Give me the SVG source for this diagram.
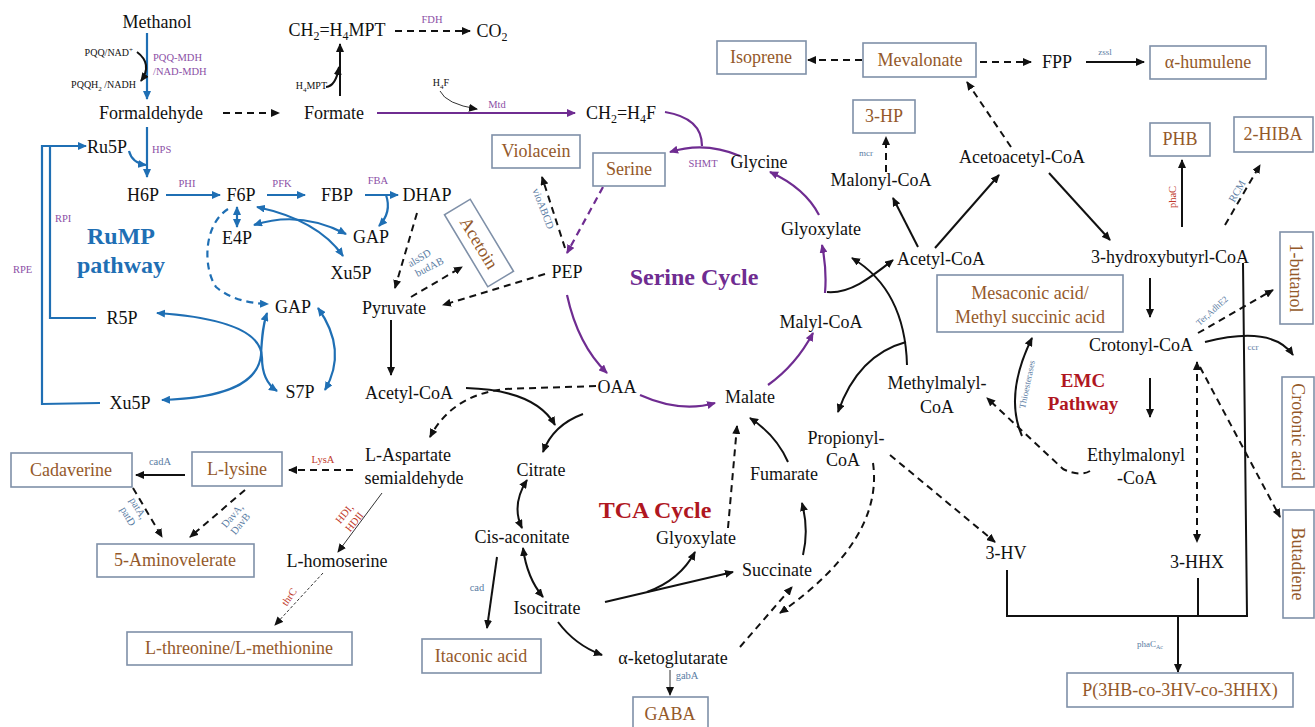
<svg xmlns="http://www.w3.org/2000/svg" width="1315" height="727" viewBox="0 0 1315 727">
<style>
text{font-family:"Liberation Serif","Times New Roman",serif}
.t{font-size:18px;fill:#111;text-anchor:middle}
.bt{font-size:18px;fill:#94592a;text-anchor:middle}
.bx{fill:#fff;stroke:#7f90a8;stroke-width:1.6}
.s{font-size:10.5px;text-anchor:middle}
.s9{font-size:9px}
.s10{font-size:10px}
.e{text-anchor:end}
.st{text-anchor:start}
.pu{fill:#8b4fa6}
.bg{fill:#5a7ca3}
.rd{fill:#c0392b}
.kk{fill:#111}
.k{stroke:#111;stroke-width:2;fill:none;marker-end:url(#ak)}
.kn{stroke:#111;stroke-width:2;fill:none}
.kd{stroke:#111;stroke-width:2;fill:none;stroke-dasharray:7 5;marker-end:url(#ak)}
.k2{stroke:#111;stroke-width:2;fill:none;marker-end:url(#ak);marker-start:url(#ak)}
.kt{stroke:#333;stroke-width:1;fill:none;marker-end:url(#ak)}
.b{stroke:#1f6fb4;stroke-width:2.2;fill:none;marker-end:url(#ab)}
.bn{stroke:#1f6fb4;stroke-width:2.2;fill:none}
.b2{stroke:#1f6fb4;stroke-width:2.2;fill:none;marker-end:url(#ab);marker-start:url(#ab)}
.bd{stroke:#1f6fb4;stroke-width:2.2;fill:none;stroke-dasharray:7 5;marker-end:url(#ab)}
.p{stroke:#6f2c91;stroke-width:2.2;fill:none;marker-end:url(#ap)}
.pn{stroke:#6f2c91;stroke-width:2.2;fill:none}
.pd{stroke:#6f2c91;stroke-width:2.2;fill:none;stroke-dasharray:7 5;marker-end:url(#ap)}
</style>
<defs>
<marker id="ak" markerUnits="userSpaceOnUse" markerWidth="10" markerHeight="8" refX="8" refY="4" orient="auto-start-reverse"><path d="M0,0 L9,4 L0,8 z" fill="#111"/></marker>
<marker id="ab" markerUnits="userSpaceOnUse" markerWidth="10" markerHeight="8" refX="8" refY="4" orient="auto-start-reverse"><path d="M0,0 L9,4 L0,8 z" fill="#1f6fb4"/></marker>
<marker id="ap" markerUnits="userSpaceOnUse" markerWidth="10" markerHeight="8" refX="8" refY="4" orient="auto-start-reverse"><path d="M0,0 L9,4 L0,8 z" fill="#6f2c91"/></marker>
</defs>
<rect width="1315" height="727" fill="#fff"/>

<g id="connectors">
<!-- blue RuMP -->
<path class="b" d="M147 33 L147 99"/>
<path class="b" d="M147 127 L147 177"/>
<path class="b" d="M129 151 Q132 163 146 165"/>
<path class="b" d="M166 195 L220 195"/>
<path class="b" d="M267 195 L305 195"/>
<path class="b" d="M365 195 L398 195"/>
<path class="b" d="M386 195 Q392 212 379 226"/>
<path class="b2" d="M237 207 L237 227"/>
<path class="b2" d="M257 207 Q318 220 343 256"/>
<path class="b2" d="M254 225 Q300 210 346 234"/>
<path class="bd" d="M228 209 C203 225 203 268 216 287 Q235 303 268 304"/>
<path class="b2" d="M157 313 C232 318 262 335 262 358 C262 375 268 385 277 391"/>
<path class="b2" d="M162 400 C222 398 258 385 261 355 C262 335 263 325 267 313"/>
<path class="b2" d="M318 308 Q348 350 325 390"/>
<path class="bn" d="M96 318 L50 318 L50 146"/>
<path class="b" d="M100 403 L42 404 L42 146 L86 146"/>
<!-- black top -->
<path class="k" d="M137 52 Q153 64 141 81"/>
<path class="kd" d="M223 113 L279 113"/>
<path class="k" d="M340 96 L340 44"/>
<path class="k" d="M326 87 Q336 86 339 67"/>
<path class="kd" d="M395 31 L470 31"/>
<path class="kt" d="M440 91 Q446 104 477 109"/>
<!-- purple serine cycle -->
<path class="p" d="M377 113 L575 113"/>
<path class="pn" d="M665 112 Q702 118 702 146"/>
<path class="p" d="M740 156 Q705 141 670 152"/>
<path class="pd" d="M603 187 L567 253"/>
<path class="p" d="M567 295 Q578 345 607 373"/>
<path class="p" d="M640 395 Q680 413 715 403"/>
<path class="p" d="M768 385 Q796 365 813 333"/>
<path class="p" d="M825 293 Q827 270 822 245"/>
<path class="p" d="M819 215 Q805 188 770 172"/>
<!-- glycolysis / pyruvate area -->
<path class="kd" d="M417 213 L395 288"/>
<path class="kd" d="M411 297 L462 267"/>
<path class="kd" d="M545 274 L443 305"/>
<path class="kd" d="M565 248 L542 177"/>
<path class="k" d="M391 320 L391 375"/>
<path class="k" d="M466 388 Q535 390 555 425"/>
<path class="k" d="M583 414 Q553 425 543 452"/>
<path class="kd" d="M596 386 L505 389 Q452 395 430 437"/>
<!-- aspartate branch -->
<path class="kd" d="M353 470 L289 470"/>
<path class="k" d="M185 475 L136 475"/>
<path class="kd" d="M133 488 L162 537"/>
<path class="kd" d="M245 490 L190 537"/>
<path class="kt" d="M382 493 L338 552"/>
<path class="kt" d="M323 573 L275 625" stroke-dasharray="3 2"/>
<!-- TCA -->
<path class="k2" d="M527 480 Q511 505 522 528"/>
<path class="k2" d="M523 548 Q527 578 543 597"/>
<path class="k" d="M497 557 L487 628"/>
<path class="k" d="M558 622 Q575 645 602 655"/>
<path class="kt" d="M670 670 L670 695"/>
<path class="k" d="M605 602 L733 572"/>
<path class="k" d="M647 592 Q680 580 695 552"/>
<path class="kd" d="M728 528 L737 426"/>
<path class="kd" d="M740 647 L792 587"/>
<path class="k" d="M803 555 Q809 530 802 503"/>
<path class="k" d="M788 462 Q776 435 750 418"/>
<path class="kd" d="M873 463 Q884 540 780 613"/>
<path class="kd" d="M890 455 L995 542"/>
<!-- EMC -->
<path class="k" d="M907 365 Q905 290 852 258"/>
<path class="k" d="M906 342 Q858 355 838 412"/>
<path class="k" d="M827 292 C850 294 870 278 893 260"/>
<path class="k" d="M918 247 L893 198"/>
<path class="k" d="M935 248 L999 175"/>
<path class="k" d="M1049 173 L1110 240"/>
<path class="kd" d="M1011 147 L967 82"/>
<path class="kd" d="M862 60 L808 60"/>
<path class="kd" d="M980 62 L1031 62"/>
<path class="k" d="M1086 62 L1144 62"/>
<path class="kd" d="M886 172 L886 137"/>
<path class="k" d="M1182 227 L1182 160"/>
<path class="kd" d="M1225 225 L1260 165"/>
<path class="k" d="M1150 278 L1150 317"/>
<path class="k" d="M1150 378 L1150 417"/>
<path class="kd" d="M1198 333 L1273 290"/>
<path class="k" d="M1205 342 Q1272 325 1293 355"/>
<path class="kd" d="M1197 362 L1197 542" marker-start="url(#ak)"/>
<path class="kd" d="M1200 367 L1280 517"/>
<path class="kd" d="M1090 471 Q1080 477 1063 469 L987 398"/>
<path class="k" d="M1022 436 Q1004 395 1032 338"/>
<path class="kn" d="M1007 570 L1007 616 L1247 616 L1243 263"/>
<path class="kn" d="M1198 578 L1198 616"/>
<path class="k" d="M1178 616 L1178 672"/>
</g>

<g id="labels">
<text class="s s10 kk e" x="133" y="56">PQQ/NAD<tspan font-size="7" dy="-4">+</tspan></text>
<text class="s s10 kk e" x="136" y="88">PQQH<tspan font-size="7" dy="3">2</tspan><tspan dy="-3"> /NADH</tspan></text>
<text class="s pu st" x="153" y="61">PQQ-MDH</text>
<text class="s pu st" x="153" y="75">/NAD-MDH</text>
<text class="s s10 kk e" x="327" y="89">H<tspan font-size="7" dy="3">4</tspan><tspan dy="-3">MPT</tspan></text>
<text class="s pu" x="432" y="23">FDH</text>
<text class="s s10 kk" x="441" y="86">H<tspan font-size="7" dy="3">4</tspan><tspan dy="-3">F</tspan></text>
<text class="s pu" x="497" y="108">Mtd</text>
<text class="s pu st" x="152" y="153">HPS</text>
<text class="s pu" x="187" y="187">PHI</text>
<text class="s pu" x="282" y="187">PFK</text>
<text class="s pu" x="378" y="184">FBA</text>
<text class="s pu st" x="55" y="222">RPI</text>
<text class="s pu st" x="13" y="273">RPE</text>
<text class="s pu" x="703" y="167">SHMT</text>
<text class="s bg" transform="translate(421,261) rotate(-30)">alsSD</text>
<text class="s bg" transform="translate(431,270) rotate(-27)">budAB</text>
<text class="s bg" transform="translate(540,210) rotate(69)">vioABCD</text>
<text class="s s9 bg" x="866" y="156">mcr</text>
<text class="s s9 bg" x="1105" y="55">zssl</text>
<text class="s rd" transform="translate(1176,197) rotate(-90)">phaC</text>
<text class="s bg" transform="translate(1240,193) rotate(-60)">RCM</text>
<text class="s s9 bg" transform="translate(1214,313) rotate(-42)">Ter,AdhE2</text>
<text class="s s9 bg" x="1253" y="350">ccr</text>
<text class="s s9 bg" transform="translate(1030,385) rotate(-78)">Thioesterases</text>
<text class="s rd" x="323" y="463">LysA</text>
<text class="s bg" x="160" y="465">cadA</text>
<text class="s bg" transform="translate(135,510) rotate(60)">patA,</text>
<text class="s bg" transform="translate(125,518) rotate(60)">patD</text>
<text class="s bg" transform="translate(235,518) rotate(-50)">DavA,</text>
<text class="s bg" transform="translate(243,526) rotate(-50)">DavB</text>
<text class="s rd" transform="translate(347,516) rotate(-50)">HDI,</text>
<text class="s rd" transform="translate(357,524) rotate(-50)">HDII</text>
<text class="s rd" transform="translate(292,599) rotate(-55)">thrC</text>
<text class="s bg" x="477" y="591">cad</text>
<text class="s bg" x="687" y="679">gabA</text>
<text class="s s9 bg" x="1150" y="647">phaC<tspan font-size="6" dy="2">Ac</tspan></text>
<text x="121" y="244" font-size="24" font-weight="bold" fill="#1f6fb4" text-anchor="middle">RuMP</text>
<text x="121" y="273" font-size="24" font-weight="bold" fill="#1f6fb4" text-anchor="middle">pathway</text>
<text x="694" y="285" font-size="24" font-weight="bold" fill="#6f2c91" text-anchor="middle">Serine Cycle</text>
<text x="655" y="518" font-size="24" font-weight="bold" fill="#b0171f" text-anchor="middle">TCA Cycle</text>
<text x="1083" y="387" font-size="19" font-weight="bold" fill="#b0171f" text-anchor="middle">EMC</text>
<text x="1083" y="410" font-size="19" font-weight="bold" fill="#b0171f" text-anchor="middle">Pathway</text>
</g>

<g id="n-methanol"><text class="t" x="157" y="28">Methanol</text></g>
<g id="n-formaldehyde"><text class="t" x="151" y="119">Formaldehyde</text></g>
<g id="n-formate"><text class="t" x="334" y="119">Formate</text></g>
<g id="n-ch2h4mpt"><text class="t" x="337" y="36">CH<tspan font-size="12" dy="4">2</tspan><tspan dy="-4">=H</tspan><tspan font-size="12" dy="4">4</tspan><tspan dy="-4">MPT</tspan></text></g>
<g id="n-co2"><text class="t" x="492" y="37">CO<tspan font-size="12" dy="4">2</tspan></text></g>
<g id="n-ch2h4f"><text class="t" x="621" y="119">CH<tspan font-size="12" dy="4">2</tspan><tspan dy="-4">=H</tspan><tspan font-size="12" dy="4">4</tspan><tspan dy="-4">F</tspan></text></g>
<g id="n-ru5p"><text class="t" x="107" y="153">Ru5P</text></g>
<g id="n-h6p"><text class="t" x="143" y="201">H6P</text></g>
<g id="n-f6p"><text class="t" x="241" y="201">F6P</text></g>
<g id="n-fbp"><text class="t" x="337" y="201">FBP</text></g>
<g id="n-dhap"><text class="t" x="427" y="201">DHAP</text></g>
<g id="n-e4p"><text class="t" x="237" y="244">E4P</text></g>
<g id="n-gap1"><text class="t" x="371" y="243">GAP</text></g>
<g id="n-xu5p1"><text class="t" x="351" y="279">Xu5P</text></g>
<g id="n-gap2"><text class="t" x="293" y="313">GAP</text></g>
<g id="n-r5p"><text class="t" x="122" y="324">R5P</text></g>
<g id="n-s7p"><text class="t" x="300" y="398">S7P</text></g>
<g id="n-xu5p2"><text class="t" x="130" y="409">Xu5P</text></g>
<g id="n-pyruvate"><text class="t" x="394" y="314">Pyruvate</text></g>
<g id="n-acetylcoa1"><text class="t" x="409" y="399">Acetyl-CoA</text></g>
<g id="n-pep"><text class="t" x="567" y="278">PEP</text></g>
<g id="n-oaa"><text class="t" x="617" y="393">OAA</text></g>
<g id="n-glycine"><text class="t" x="759" y="168">Glycine</text></g>
<g id="n-glyoxylate1"><text class="t" x="821" y="235">Glyoxylate</text></g>
<g id="n-malylcoa"><text class="t" x="821" y="328">Malyl-CoA</text></g>
<g id="n-malate"><text class="t" x="750" y="403">Malate</text></g>
<g id="n-acetylcoa2"><text class="t" x="941" y="265">Acetyl-CoA</text></g>
<g id="n-malonylcoa"><text class="t" x="881" y="186">Malonyl-CoA</text></g>
<g id="n-acetoacetylcoa"><text class="t" x="1022" y="163">Acetoacetyl-CoA</text></g>
<g id="n-fpp"><text class="t" x="1057" y="68">FPP</text></g>
<g id="n-3hbcoa"><text class="t" x="1170" y="263">3-hydroxybutyrl-CoA</text></g>
<g id="n-crotonylcoa"><text class="t" x="1141" y="351">Crotonyl-CoA</text></g>
<g id="n-methylmalylcoa"><text class="t" x="937" y="389">Methylmalyl-</text><text class="t" x="937" y="413">CoA</text></g>
<g id="n-ethylmalonylcoa"><text class="t" x="1136" y="461">Ethylmalonyl</text><text class="t" x="1137" y="484">-CoA</text></g>
<g id="n-propionylcoa"><text class="t" x="846" y="444">Propionyl-</text><text class="t" x="843" y="466">CoA</text></g>
<g id="n-aspsa"><text class="t" x="408" y="461">L-Aspartate</text><text class="t" x="414" y="484">semialdehyde</text></g>
<g id="n-citrate"><text class="t" x="541" y="476">Citrate</text></g>
<g id="n-cisaconitate"><text class="t" x="522" y="543">Cis-aconitate</text></g>
<g id="n-isocitrate"><text class="t" x="547" y="614">Isocitrate</text></g>
<g id="n-glyoxylate2"><text class="t" x="696" y="544">Glyoxylate</text></g>
<g id="n-fumarate"><text class="t" x="784" y="480">Fumarate</text></g>
<g id="n-succinate"><text class="t" x="777" y="576">Succinate</text></g>
<g id="n-akg"><text class="t" x="673" y="664">α-ketoglutarate</text></g>
<g id="n-3hv"><text class="t" x="1006" y="559">3-HV</text></g>
<g id="n-3hhx"><text class="t" x="1197" y="568">3-HHX</text></g>
<g id="n-lhomoserine"><text class="t" x="337" y="567">L-homoserine</text></g>

<g id="b-isoprene"><rect class="bx" x="717" y="41" width="89" height="33"/><text class="bt" x="761" y="63">Isoprene</text></g>
<g id="b-mevalonate"><rect class="bx" x="863" y="43" width="113" height="34"/><text class="bt" x="920" y="66">Mevalonate</text></g>
<g id="b-humulene"><rect class="bx" x="1150" y="46" width="116" height="33"/><text class="bt" x="1208" y="68">α-humulene</text></g>
<g id="b-3hp"><rect class="bx" x="853" y="100" width="62" height="33"/><text class="bt" x="884" y="122">3-HP</text></g>
<g id="b-phb"><rect class="bx" x="1150" y="123" width="60" height="33"/><text class="bt" x="1180" y="145">PHB</text></g>
<g id="b-2hiba"><rect class="bx" x="1234" y="117" width="79" height="35"/><text class="bt" x="1273" y="140">2-HIBA</text></g>
<g id="b-violacein"><rect class="bx" x="492" y="135" width="88" height="33"/><text class="bt" x="536" y="157">Violacein</text></g>
<g id="b-serine"><rect class="bx" x="593" y="153" width="72" height="33"/><text class="bt" x="629" y="175">Serine</text></g>
<g id="b-acetoin" transform="translate(479,243) rotate(59)"><rect class="bx" x="-42" y="-15" width="84" height="30"/><text class="bt" x="0" y="6">Acetoin</text></g>
<g id="b-mesaconic"><rect class="bx" x="937" y="275" width="186" height="57"/><text class="bt" x="1030" y="299">Mesaconic acid/</text><text class="bt" x="1030" y="323">Methyl succinic acid</text></g>
<g id="b-1butanol"><rect class="bx" x="1280" y="232" width="33" height="92"/><text class="bt" transform="translate(1296,278) rotate(90)" y="6">1-butanol</text></g>
<g id="b-crotonic"><rect class="bx" x="1282" y="377" width="32" height="110"/><text class="bt" transform="translate(1298,432) rotate(90)" y="6">Crotonic acid</text></g>
<g id="b-butadiene"><rect class="bx" x="1283" y="510" width="31" height="108"/><text class="bt" transform="translate(1298,564) rotate(90)" y="6">Butadiene</text></g>
<g id="b-cadaverine"><rect class="bx" x="11" y="453" width="121" height="34"/><text class="bt" x="71" y="476">Cadaverine</text></g>
<g id="b-llysine"><rect class="bx" x="192" y="452" width="90" height="34"/><text class="bt" x="237" y="475">L-lysine</text></g>
<g id="b-5av"><rect class="bx" x="97" y="544" width="157" height="33"/><text class="bt" x="175" y="566">5-Aminovelerate</text></g>
<g id="b-lthr"><rect class="bx" x="127" y="632" width="225" height="33"/><text class="bt" x="239" y="654">L-threonine/L-methionine</text></g>
<g id="b-itaconic"><rect class="bx" x="422" y="639" width="119" height="34"/><text class="bt" x="481" y="662">Itaconic acid</text></g>
<g id="b-gaba"><rect class="bx" x="633" y="697" width="75" height="34"/><text class="bt" x="670" y="720">GABA</text></g>
<g id="b-phbco"><rect class="bx" x="1067" y="673" width="226" height="34"/><text class="bt" x="1180" y="696">P(3HB-co-3HV-co-3HHX)</text></g>
</svg>
